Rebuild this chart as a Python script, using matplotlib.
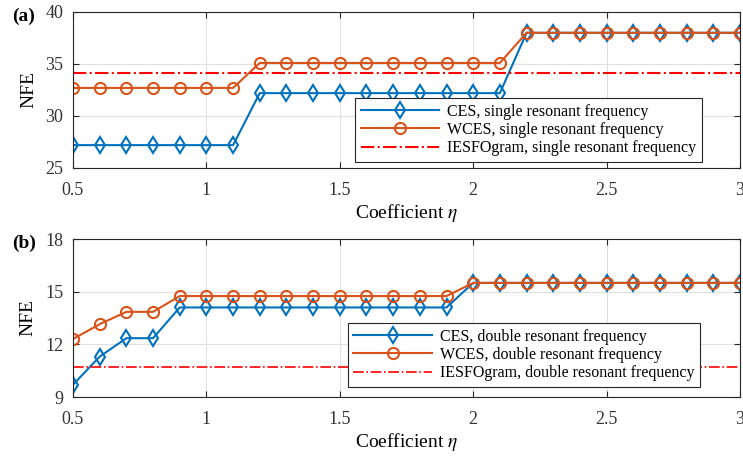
import matplotlib.pyplot as plt

plt.rcParams['font.family'] = ['Liberation Serif', 'DejaVu Serif']
plt.rcParams['mathtext.fontset'] = 'stix'

# coefficient eta
eta = [0.5, 0.6, 0.7, 0.8, 0.9, 1.0, 1.1, 1.2, 1.3, 1.4, 1.5, 1.6, 1.7,
       1.8, 1.9, 2.0, 2.1, 2.2, 2.3, 2.4, 2.5, 2.6, 2.7, 2.8, 2.9, 3.0]

# (a) single resonant frequency
ces_single = [27.2, 27.2, 27.2, 27.2, 27.2, 27.2, 27.2, 32.2, 32.2, 32.2, 32.2, 32.2, 32.2,
              32.2, 32.2, 32.2, 32.2, 38.0, 38.0, 38.0, 38.0, 38.0, 38.0, 38.0, 38.0, 38.0]
wces_single = [32.7, 32.7, 32.7, 32.7, 32.7, 32.7, 32.7, 35.1, 35.1, 35.1, 35.1, 35.1, 35.1,
               35.1, 35.1, 35.1, 35.1, 38.0, 38.0, 38.0, 38.0, 38.0, 38.0, 38.0, 38.0, 38.0]
iesfo_single = 34.1

# (b) double resonant frequency
ces_double = [9.7, 11.3, 12.35, 12.35, 14.1, 14.1, 14.1, 14.1, 14.1, 14.1, 14.1, 14.1, 14.1,
              14.1, 14.1, 15.5, 15.5, 15.5, 15.5, 15.5, 15.5, 15.5, 15.5, 15.5, 15.5, 15.5]
wces_double = [12.3, 13.15, 13.85, 13.85, 14.75, 14.75, 14.75, 14.75, 14.75, 14.75, 14.75, 14.75, 14.75,
               14.75, 14.75, 15.5, 15.5, 15.5, 15.5, 15.5, 15.5, 15.5, 15.5, 15.5, 15.5, 15.5]
iesfo_double = 10.7

blue = '#0072BD'
orange = '#D95319'
red = '#FF0000'

fig = plt.figure(figsize=(7.43, 4.59), dpi=100)
ax1 = fig.add_axes([73/743, 1 - 168/459, 667/743, 156/459])
ax2 = fig.add_axes([73/743, 1 - 397/459, 667/743, 158/459])


def style(ax, ylim, yticks):
    ax.set_xlim(0.5, 3)
    ax.set_ylim(*ylim)
    ax.set_xticks([0.5, 1, 1.5, 2, 2.5, 3])
    ax.set_xticklabels(['0.5', '1', '1.5', '2', '2.5', '3'])
    ax.set_yticks(yticks)
    ax.grid(True, color='#e0e0e0', linewidth=0.8)
    ax.set_axisbelow(True)
    ax.tick_params(direction='in', top=True, right=True, labelsize=13, length=4,
                   color='#262626', labelcolor='#333333')
    ax.tick_params(axis='x', pad=10)
    ax.tick_params(axis='y', pad=7)
    for s in ax.spines.values():
        s.set_color('#262626')
        s.set_linewidth(0.8)
    ax.set_xlabel(r'Coefficient $\eta$', fontsize=14, labelpad=2)
    ax.set_ylabel('NFE', fontsize=14, labelpad=6)


kw = dict(linewidth=1.5, markersize=8, markerfacecolor='none', markeredgewidth=1.5)
leg_kw = dict(loc='upper left', borderaxespad=0, fontsize=11.5, fancybox=False,
              edgecolor='#262626', framealpha=1, handlelength=4.9, handletextpad=0.5,
              borderpad=0.35, labelspacing=0.15)

ax1.plot(eta, ces_single, color=blue, marker='d', label='CES, single resonant frequency', **kw)
ax1.plot(eta, wces_single, color=orange, marker='o', label='WCES, single resonant frequency', **kw)
ax1.axhline(iesfo_single, color=red, linestyle='-.', linewidth=1.5,
            label='IESFOgram, single resonant frequency')
style(ax1, (25, 40), [25, 30, 35, 40])
ax1.legend(bbox_to_anchor=(0.423, 0.449), **leg_kw).get_frame().set_linewidth(0.8)

ax2.plot(eta, ces_double, color=blue, marker='d', label='CES, double resonant frequency', **kw)
ax2.plot(eta, wces_double, color=orange, marker='o', label='WCES, double resonant frequency', **kw)
ax2.axhline(iesfo_double, color=red, linestyle='-.', linewidth=1.2,
            label='IESFOgram, double resonant frequency')
style(ax2, (9, 18), [9, 12, 15, 18])
ax2.legend(bbox_to_anchor=(0.412, 0.468), **leg_kw).get_frame().set_linewidth(0.8)

fig.text(12/743, 1 - 16/459, '(a)', fontsize=14, fontweight='bold', va='center')
fig.text(12/743, 1 - 243/459, '(b)', fontsize=14, fontweight='bold', va='center')

fig.savefig('out.png', dpi=100)
